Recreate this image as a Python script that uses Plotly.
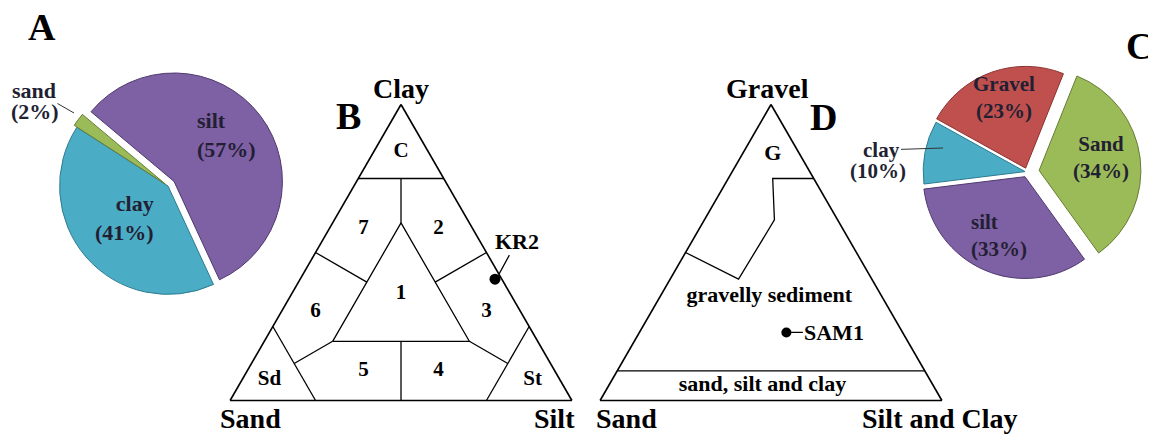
import math
import plotly.graph_objects as go

# the page puts the figure 8px in from the top-left corner
OFF = 8
W, H = 1156 - OFF, 434 - OFF
SERIF = "Liberation Serif"

# ---- A: grain size of sample KR2 ----
pie_a_labels = ["silt", "clay", "sand"]
pie_a_values = [57, 41, 2]
pie_a_colors = ["#7E60A4", "#4BACC6", "#9BBB59"]
pie_a_edges = ["#4E3A6E", "#2D7B90", "#667E35"]
pie_a_pull = [0.07, 0.0, 0.03]

# ---- C: grain size of sample SAM1 ----
pie_c_labels = ["Gravel", "Sand", "silt", "clay"]
pie_c_values = [23, 34, 33, 10]
pie_c_colors = ["#C0504D", "#9BBB59", "#7E60A4", "#4BACC6"]
pie_c_edges = ["#8A3432", "#667E35", "#4E3A6E", "#2D7B90"]
pie_c_pull = [0.04, 0.12, 0.05, 0.02]

# ---- B: Shepard diagram, points as (clay, sand, silt) ----
shepard_lines = [
    [(75, 25, 0), (75, 0, 25)],
    [(25, 75, 0), (0, 75, 25)],
    [(25, 0, 75), (0, 25, 75)],
    [(60, 20, 20), (20, 60, 20), (20, 20, 60), (60, 20, 20)],
    [(60, 20, 20), (75, 12.5, 12.5)],
    [(20, 40, 40), (0, 50, 50)],
    [(40, 40, 20), (50, 50, 0)],
    [(40, 20, 40), (50, 0, 50)],
    [(20, 60, 20), (12.5, 75, 12.5)],
    [(20, 20, 60), (12.5, 12.5, 75)],
]
shepard_names = ["C", "7", "2", "6", "1", "3", "5", "4", "Sd", "St"]
shepard_clay = [84, 58, 58, 30, 36, 30, 10, 10, 7, 7]
shepard_sand = [8, 32, 10, 60, 32, 10, 56, 34, 85, 8]
shepard_silt = [8, 10, 32, 10, 32, 60, 34, 56, 8, 85]

# ---- D: gravel diagram, points as (gravel, sand, silt+clay) ----
gravel_lines = [
    [(10, 90, 0), (10, 0, 90)],
    [(75, 0, 25), (75, 12, 13), (61, 18.5, 20.5), (41, 39, 20), (50, 50, 0)],
]
gravel_names = ["G", "gravelly sediment", "sand, silt and clay"]
gravel_a = [83, 35, 5]
gravel_b = [8, 33, 50]
gravel_c = [9, 32, 45]


def X(px):
    return (px - OFF) / W


def Y(py):
    return 1 - (py - OFF) / H


dom_b = dict(x=[X(226), X(576)], y=[Y(400.5), Y(104.5)])
dom_d = dict(x=[X(596), X(946)], y=[Y(400.5), Y(104.5)])


def tern_paper(a, b, c, dom):
    # same placement rule as plotly's ternary layout (margins are 0)
    s = a + b + c
    a, c = a / s, c / s
    wmax = (dom["x"][1] - dom["x"][0]) * W
    hmax = (dom["y"][1] - dom["y"][0]) * H
    h = min(hmax, wmax * math.sqrt(3) / 2)
    w = h * 2 / math.sqrt(3)
    left = W * sum(dom["x"]) / 2 - w / 2
    bottom = H * (1 - sum(dom["y"]) / 2) + h / 2
    return (left + w * (c + a / 2)) / W, 1 - (bottom - h * a) / H


def seg_lists(lines):
    a, b, c = [], [], []
    for line in lines:
        for p in line:
            a.append(p[0]); b.append(p[1]); c.append(p[2])
        a.append(None); b.append(None); c.append(None)
    return a, b, c


fig = go.Figure()

fig.add_trace(go.Pie(
    labels=pie_a_labels, values=pie_a_values, sort=False, direction="clockwise",
    rotation=-50, pull=pie_a_pull, textinfo="none", hoverinfo="skip",
    marker=dict(colors=pie_a_colors, line=dict(color=pie_a_edges, width=1)),
    domain=dict(x=[X(52), X(284)], y=[Y(302), Y(70)]),
))
fig.add_trace(go.Pie(
    labels=pie_c_labels, values=pie_c_values, sort=False, direction="clockwise",
    rotation=-61, pull=pie_c_pull, textinfo="none", hoverinfo="skip",
    marker=dict(colors=pie_c_colors, line=dict(color=pie_c_edges, width=1)),
    domain=dict(x=[X(913), X(1141)], y=[Y(286), Y(58)]),
))

# ternary B
sa, sb, sc = seg_lists(shepard_lines)
fig.add_trace(go.Scatterternary(a=sa, b=sb, c=sc, mode="lines", subplot="ternary",
                                line=dict(color="black", width=1.3), hoverinfo="skip"))
fig.add_trace(go.Scatterternary(a=shepard_clay, b=shepard_sand, c=shepard_silt, mode="text",
                                text=["<b>%s</b>" % t for t in shepard_names], subplot="ternary",
                                textfont=dict(family=SERIF, size=21, color="black"), hoverinfo="skip"))
kr2 = dict(zip(pie_a_labels, pie_a_values))
fig.add_trace(go.Scatterternary(a=[kr2["clay"]], b=[kr2["sand"]], c=[kr2["silt"]], mode="markers",
                                subplot="ternary", marker=dict(color="black", size=11), hoverinfo="skip"))

# ternary D
ga, gb, gc = seg_lists(gravel_lines)
fig.add_trace(go.Scatterternary(a=ga, b=gb, c=gc, mode="lines", subplot="ternary2",
                                line=dict(color="black", width=1.3), hoverinfo="skip"))
fig.add_trace(go.Scatterternary(a=gravel_a, b=gravel_b, c=gravel_c, mode="text",
                                text=["<b>%s</b>" % t for t in gravel_names], subplot="ternary2",
                                textfont=dict(family=SERIF, size=22, color="black"), hoverinfo="skip"))
sam1 = dict(zip(pie_c_labels, pie_c_values))
sam1_fine = sam1["silt"] + sam1["clay"]
fig.add_trace(go.Scatterternary(a=[sam1["Gravel"]], b=[sam1["Sand"]], c=[sam1_fine], mode="markers",
                                subplot="ternary2", marker=dict(color="black", size=10), hoverinfo="skip"))

axis_style = dict(showticklabels=False, ticks="", showgrid=False, linecolor="black",
                  linewidth=1.6, title=dict(text=""))
tern_common = dict(sum=100, bgcolor="white", aaxis=axis_style, baxis=axis_style, caxis=axis_style)

ann = []


def text(x, y, s, size=22, align="center", color="black"):
    ann.append(dict(x=X(x), y=Y(y), xref="paper", yref="paper", text=s, showarrow=False,
                    xanchor="center", yanchor="middle", align=align,
                    font=dict(family=SERIF, size=size, color=color)))


def leader(x, y, s, ax, ay, size=22, color="black", lc="black", lw=1.2):
    ann.append(dict(x=x, y=y, xref="paper", yref="paper", text=s, showarrow=True,
                    xanchor="center", yanchor="middle", arrowhead=0, arrowwidth=lw,
                    arrowcolor=lc, ax=ax, ay=ay, standoff=0,
                    font=dict(family=SERIF, size=size, color=color)))


# panel letters
for letter, x, y in [("A", 42, 27), ("B", 348, 116), ("C", 1139, 46), ("D", 823, 117)]:
    text(x, y, "<b>%s</b>" % letter, size=38)

# vertex names
for s, x, y in [("Clay", 401, 89), ("Sand", 250, 418), ("Silt", 554, 418),
                ("Gravel", 767, 89), ("Sand", 626, 418), ("Silt and Clay", 940, 418)]:
    text(x, y, "<b>%s</b>" % s, size=28)

dark = "#231f33"
pa = dict(zip(pie_a_labels, pie_a_values))
pc = dict(zip(pie_c_labels, pie_c_values))
text(227, 135, "<b>silt<br>(%d%%)</b>" % pa["silt"], align="left", color=dark)
text(124, 218, "<b>clay<br>(%d%%)</b>" % pa["clay"], align="right", color=dark)
text(35, 112, "<b>(%d%%)</b>" % pa["sand"], color=dark)
leader(X(74), Y(113), "<b>sand</b>", -40, -23, color=dark, lc="#333", lw=1)

text(1004, 97, "<b>Gravel<br>(%d%%)</b>" % pc["Gravel"], size=21, color=dark)
text(1101, 157, "<b>Sand<br>(%d%%)</b>" % pc["Sand"], size=21, color=dark)
text(999, 236, "<b>silt<br>(%d%%)</b>" % pc["silt"], size=21, align="left", color=dark)
text(878, 171, "<b>(%d%%)</b>" % pc["clay"], size=21, color=dark)
leader(X(943), Y(148), "<b>clay</b>", -62, 2, size=21, color=dark, lc="#333", lw=1)

# sample labels with leader lines
kx, ky = tern_paper(kr2["clay"], kr2["sand"], kr2["silt"], dom_b)
leader(kx + 4 / W, ky + 5 / H, "<b>KR2</b>", 18, -33)
sx, sy = tern_paper(sam1["Gravel"], sam1["Sand"], sam1_fine, dom_d)
leader(sx, sy, "<b>SAM1</b>", 48, 0, lw=1.4)

fig.update_layout(
    width=W, height=H, margin=dict(l=0, r=0, t=0, b=0),
    paper_bgcolor="white", plot_bgcolor="white", showlegend=False,
    ternary=dict(domain=dom_b, **tern_common),
    ternary2=dict(domain=dom_d, **tern_common),
    annotations=ann,
)

fig.write_html("out.html")
